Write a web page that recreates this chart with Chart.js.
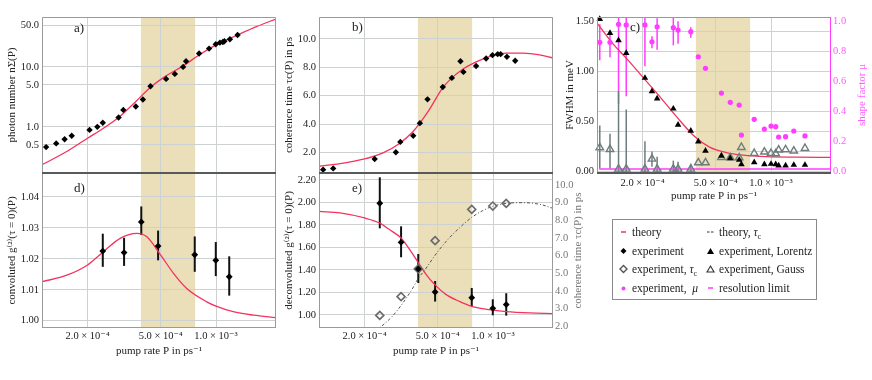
<!DOCTYPE html>
<html>
<head>
<meta charset="utf-8">
<script src="https://cdn.jsdelivr.net/npm/chart.js@4.4.1/dist/chart.umd.min.js"></script>
<style>
  html, body { margin: 0; padding: 0; background: #fff; }
  #fig { position: relative; width: 872px; height: 380px; font-family: 'Liberation Serif', 'DejaVu Serif', serif; color: #222; }
  #fig canvas { position: absolute; left: 0; top: 0; }
  .plabel { position: absolute; font-size: 13px; line-height: 13px; }
  #legend { position: absolute; left: 612px; top: 219px; width: 203px; height: 79px; border: 1px solid #8a8a8a; }
  .li { position: absolute; height: 14px; line-height: 14px; font-size: 11.5px; white-space: nowrap; }
  .li svg { position: absolute; left: 0; top: 2px; }
  .li span { position: absolute; left: 14px; top: 0; }
</style>
</head>
<body>
<div id="fig">
  <canvas id="chartD" width="872" height="380"></canvas>
  <canvas id="chartE" width="872" height="380"></canvas>
  <canvas id="chartA" width="872" height="380"></canvas>
  <canvas id="chartB" width="872" height="380"></canvas>
  <canvas id="chartC" width="872" height="380"></canvas>
  <div class="plabel" style="left:74px;top:21px">a)</div>
  <div class="plabel" style="left:352px;top:20px">b)</div>
  <div class="plabel" style="left:630px;top:20px">c)</div>
  <div class="plabel" style="left:74px;top:181px">d)</div>
  <div class="plabel" style="left:352px;top:181px">e)</div>
  <div id="legend"></div>
</div>
<script>
// gemeinsame x-Achse (Pumprate)
const X_MIN = 1.13e-4;
const X_MAX = 2.12e-3;
const X_TICKS = [2e-4, 5e-4, 1e-3];
const X_TICK_LABELS = ['2.0 × 10⁻⁴', '5.0 × 10⁻⁴', '1.0 × 10⁻³'];
const BAND = [3.9e-4, 7.7e-4];

// a) Photonenzahl
const PHOTON_P = [1.19e-4, 1.35e-4, 1.50e-4, 1.64e-4, 2.05e-4, 2.26e-4, 2.42e-4, 2.95e-4, 3.13e-4, 3.66e-4, 4.0e-4, 4.4e-4,
                  5.35e-4, 5.97e-4, 6.62e-4, 6.87e-4, 8.09e-4, 9.17e-4, 9.97e-4, 1.05e-3, 1.09e-3, 1.11e-3, 1.19e-3, 1.31e-3];
const PHOTON_N = [0.46, 0.53, 0.62, 0.71, 0.89, 1.0, 1.17, 1.43, 1.92, 2.18, 2.86, 4.76,
                  6.31, 7.64, 10.0, 12.4, 16.7, 20.2, 23.9, 25.4, 26.1, 26.8, 28.9, 34.1];
const PHOTON_THEORY_P = [1.13e-4, 1.54e-4, 2.0e-4, 2.44e-4, 2.95e-4, 3.66e-4, 4.4e-4, 5.35e-4, 6.62e-4, 8.09e-4, 1.0e-3, 1.31e-3, 1.66e-3, 2.12e-3];
const PHOTON_THEORY_N = [0.233, 0.388, 0.647, 0.95, 1.43, 2.64, 4.58, 7.08, 10.4, 15.8, 23.3, 34.1, 47, 63];
const A_TICKS = [0.5, 1, 5, 10, 50];
const A_TICK_LABELS = ['0.5', '1.0', '5.0', '10.0', '50.0'];

// b) Kohaerenzzeit
const TAU_P = [1.19e-4, 1.35e-4, 2.27e-4, 2.96e-4, 3.13e-4, 3.68e-4, 4.0e-4, 4.4e-4, 5.33e-4, 5.97e-4, 6.65e-4, 6.9e-4,
               8.09e-4, 9.17e-4, 9.93e-4, 1.06e-3, 1.10e-3, 1.19e-3, 1.32e-3];
const TAU_PS = [0.80, 0.89, 1.55, 2.02, 2.75, 3.18, 4.07, 5.74, 6.61, 7.25, 8.42, 7.67,
                8.09, 8.61, 8.85, 8.92, 8.92, 8.73, 8.45];
const TAU_THEORY_P = [1.13e-4, 1.47e-4, 2.0e-4, 2.52e-4, 3.1e-4, 3.66e-4, 4.0e-4, 4.51e-4, 5.33e-4, 5.97e-4, 6.87e-4, 8.09e-4,
                      9.55e-4, 1.18e-3, 1.46e-3, 1.79e-3, 2.12e-3];
const TAU_THEORY_PS = [1.04, 1.22, 1.55, 1.98, 2.64, 3.46, 4.07, 5.04, 6.56, 7.25, 7.88, 8.38, 8.75, 8.99, 8.99, 8.87, 8.66];
const B_TICKS = [2, 4, 6, 8, 10];

// c) Linienbreite und Formfaktor
const FWHM_P = [1.17e-4, 1.33e-4, 1.48e-4, 1.63e-4, 2.06e-4, 2.25e-4, 2.40e-4, 2.94e-4, 3.12e-4, 3.66e-4, 4.02e-4, 4.4e-4,
                5.37e-4, 6.0e-4, 6.71e-4, 6.9e-4, 8.1e-4, 9.2e-4, 1.0e-3, 1.06e-3, 1.1e-3, 1.2e-3, 1.33e-3, 1.53e-3];
const LORENTZ = [1.52, 1.38, 1.307, 1.18, 0.933, 0.80, 0.727, 0.627, 0.467, 0.407, 0.30, 0.207,
                 0.157, 0.133, 0.117, 0.073, 0.093, 0.073, 0.077, 0.073, 0.06, 0.06, 0.067, 0.067];
const GAUSS = [0.24, 0.223, 0.027, 0.027, 0.027, 0.127, 0.027, 0.027, 0.027, 0.027, 0.09, 0.09,
               0.143, 0.14, 0.14, 0.243, 0.183, 0.197, 0.183, 0.18, 0.217, 0.22, 0.207, 0.233];
const GAUSS_LO = [0.033, 0.033, 0, 0, 0, 0.05, 0, 0, 0, 0, 0.09, 0.09,
                  0.143, 0.14, 0.14, 0.243, 0.183, 0.197, 0.183, 0.18, 0.217, 0.22, 0.207, 0.233];
const GAUSS_HI = [0.46, 0.377, 0.8, 0.62, 0.303, 0.2, 0.15, 0.11, 0.1, 0.08, 0.09, 0.09,
                  0.143, 0.14, 0.14, 0.243, 0.183, 0.197, 0.183, 0.18, 0.217, 0.22, 0.207, 0.233];
const MU = [0.86, 0.86, 0.98, 0.976, 0.976, 0.864, 0.964, 0.958, 0.942, 0.931, 0.764, 0.687,
            0.522, 0.46, 0.442, 0.242, 0.347, 0.282, 0.302, 0.298, 0.229, 0.231, 0.269, 0.236];
const MU_LO = [0.74, 0.76, 0.45, 0.5, 0.70, 0.82, 0.81, 0.84, 0.85, 0.89, 0.764, 0.687,
               0.522, 0.46, 0.442, 0.242, 0.347, 0.282, 0.302, 0.298, 0.229, 0.231, 0.269, 0.236];
const MU_HI = [0.98, 0.93, 1.03, 1.03, 1.03, 0.90, 1.02, 1.03, 1.0, 0.96, 0.764, 0.687,
               0.522, 0.46, 0.442, 0.242, 0.347, 0.282, 0.302, 0.298, 0.229, 0.231, 0.269, 0.236];
const FWHM_THEORY_P = [1.12e-4, 1.37e-4, 1.63e-4, 2.06e-4, 2.52e-4, 3.11e-4, 3.84e-4, 4.63e-4, 5.72e-4, 7.05e-4, 9.46e-4, 1.38e-3, 2.12e-3];
const FWHM_THEORY = [1.49, 1.28, 1.13, 0.917, 0.733, 0.533, 0.35, 0.245, 0.19, 0.165, 0.15, 0.145, 0.143];
const RES_P = [1.16e-4, 2.12e-3];
const RES_FWHM = [0.027, 0.027];
const C_TICKS = [0, 0.2, 0.4, 0.5, 0.6, 0.8, 1.0, 1.2, 1.4, 1.5];
const C_TICK_LABELS = ['0.00', '', '', '0.50', '', '', '1.00', '', '', '1.50'];
const MU_TICKS = [0, 0.2, 0.4, 0.6, 0.8, 1.0];

// d) und e) g2-Korrelation
const G2_P = [2.42e-4, 3.16e-4, 3.92e-4, 4.84e-4, 7.66e-4, 9.97e-4, 1.18e-3];
const G2_CONV = [1.0225, 1.0220, 1.0319, 1.0241, 1.0213, 1.0195, 1.0142];
const G2_CONV_LO = [1.0174, 1.0177, 1.0277, 1.0195, 1.0158, 1.0144, 1.0081];
const G2_CONV_HI = [1.0281, 1.0268, 1.0369, 1.0291, 1.0272, 1.0254, 1.0208];
const G2_CONV_THEORY_P = [1.134e-4, 1.544e-4, 2.0e-4, 2.44e-4, 3.01e-4, 3.71e-4, 4.2e-4, 5.0e-4, 5.87e-4, 6.93e-4, 8.9e-4, 1.0e-3, 1.24e-3, 1.6e-3, 2.12e-3];
const G2_CONV_THEORY = [1.0126, 1.0147, 1.018, 1.0223, 1.0266, 1.0282, 1.0271, 1.0212, 1.0153, 1.0104, 1.0061, 1.0047, 1.0029, 1.0018, 1.001];
const D_TICKS = [1.00, 1.01, 1.02, 1.03, 1.04];

const G2_DECONV = [1.993, 1.646, 1.409, 1.204, 1.154, 1.059, 1.092];
const G2_DECONV_LO = [1.770, 1.513, 1.284, 1.119, 1.077, 0.997, 0.994];
const G2_DECONV_HI = [2.224, 1.788, 1.542, 1.302, 1.240, 1.139, 1.193];
const G2_DECONV_THEORY_P = [1.134e-4, 1.47e-4, 2.0e-4, 2.41e-4, 2.73e-4, 3.16e-4, 3.52e-4, 3.88e-4, 4.33e-4, 4.82e-4, 5.56e-4,
                            6.56e-4, 7.66e-4, 9.55e-4, 1.18e-3, 1.58e-3, 2.12e-3];
const G2_DECONV_THEORY = [1.921, 1.907, 1.862, 1.818, 1.759, 1.684, 1.581, 1.477, 1.359, 1.27, 1.181,
                          1.121, 1.077, 1.047, 1.03, 1.018, 1.012];
const TAU_E = [2.62, 3.68, 5.25, 6.85, 8.62, 8.81, 8.96];
const TAU_E_THEORY_P = [2.3e-4, 2.47e-4, 2.85e-4, 3.23e-4, 3.66e-4, 3.88e-4, 4.33e-4, 4.82e-4, 5.56e-4, 6.56e-4, 7.66e-4,
                        8.79e-4, 9.93e-4, 1.18e-3, 1.45e-3, 1.79e-3, 2.12e-3];
const TAU_E_THEORY = [1.75, 2.0, 2.6, 3.32, 4.17, 4.64, 5.30, 6.0, 6.81, 7.57, 8.17, 8.55, 8.79, 8.96, 9.0, 8.91, 8.68];
const E_TICKS = [1.0, 1.2, 1.4, 1.6, 1.8, 2.0, 2.2];
const E_TAU_TICKS = [2, 3, 4, 5, 6, 7, 8, 9, 10];

// Farben
const RED = '#f2335d';
const MAGENTA = '#ff3cff';
const MU_TEXT = '#ff5cff';
const BAND_COLOR = '#ebdfba';
const GRID = '#cdd1d1';
const FRAME = '#9a9a9a';
const TEXT = '#222';
const GAUSS_GRAY = '#6d7c7c';
const FONT_FAMILY = "'Liberation Serif', 'DejaVu Serif', serif";
const TICK_FONT = { size: 10.5 };
const TITLE_FONT = { size: 11 };

Chart.defaults.font.family = FONT_FAMILY;
Chart.defaults.font.size = 11;
Chart.defaults.color = TEXT;

function pts(xs, ys) {
    return xs.map(function(x, i) { return { x: x, y: ys[i] }; });
}

// schattierter Bereich
const bandPlugin = {
    id: 'band',
    beforeDraw: function(chart) {
        const a = chart.chartArea, xs = chart.scales.x, ctx = chart.ctx;
        const x0 = xs.getPixelForValue(BAND[0]), x1 = xs.getPixelForValue(BAND[1]);
        ctx.save();
        ctx.fillStyle = BAND_COLOR;
        ctx.fillRect(x0, a.top, x1 - x0, a.bottom - a.top);
        ctx.restore();
    }
};

// Fehlerbalken aus errLo / errHi
const errorBarPlugin = {
    id: 'errorBars',
    beforeDatasetsDraw: function(chart) {
        const a = chart.chartArea, ctx = chart.ctx, xs = chart.scales.x;
        ctx.save();
        ctx.beginPath();
        ctx.rect(a.left, a.top, a.right - a.left, a.bottom - a.top);
        ctx.clip();
        chart.data.datasets.forEach(function(ds, i) {
            if (!ds.errLo) return;
            const ys = chart.scales[chart.getDatasetMeta(i).yAxisID];
            ctx.strokeStyle = ds.errColor;
            ctx.lineWidth = ds.errWidth;
            ds.data.forEach(function(p, j) {
                if (ds.errLo[j] === ds.errHi[j]) return;
                const px = xs.getPixelForValue(p.x);
                ctx.beginPath();
                ctx.moveTo(px, ys.getPixelForValue(ds.errLo[j]));
                ctx.lineTo(px, ys.getPixelForValue(ds.errHi[j]));
                ctx.stroke();
            });
        });
        ctx.restore();
    }
};

// Rahmen um den Plotbereich, rechter Achsentitel von unten nach oben
const framePlugin = {
    id: 'frame',
    afterDraw: function(chart, args, opts) {
        const a = chart.chartArea, ctx = chart.ctx;
        ctx.save();
        ctx.lineWidth = 1;
        ctx.strokeStyle = FRAME;
        ctx.beginPath();
        ctx.moveTo(a.left + 0.5, a.bottom);
        ctx.lineTo(a.left + 0.5, a.top + 0.5);
        ctx.lineTo(a.right - 0.5, a.top + 0.5);
        if (!opts.rightColor) ctx.lineTo(a.right - 0.5, a.bottom);
        if (!opts.thickBottom) {
            ctx.moveTo(a.left, a.bottom - 0.5);
            ctx.lineTo(a.right, a.bottom - 0.5);
        }
        ctx.stroke();
        if (opts.rightColor) {
            ctx.strokeStyle = opts.rightColor;
            ctx.beginPath();
            ctx.moveTo(a.right - 0.5, a.top);
            ctx.lineTo(a.right - 0.5, a.bottom);
            ctx.stroke();
        }
        if (opts.thickBottom) {
            ctx.strokeStyle = '#565a5a';
            ctx.lineWidth = 2;
            ctx.beginPath();
            ctx.moveTo(a.left, a.bottom);
            ctx.lineTo(a.right, a.bottom);
            ctx.stroke();
        }
        if (opts.rightTitle) {
            ctx.translate(a.right + opts.rightTitleOffset, (a.top + a.bottom) / 2);
            ctx.rotate(-Math.PI / 2);
            ctx.fillStyle = opts.rightTitleColor;
            ctx.font = TITLE_FONT.size + 'px ' + FONT_FAMILY;
            ctx.textAlign = 'center';
            ctx.textBaseline = 'middle';
            ctx.fillText(opts.rightTitle, 0, 0);
        }
        ctx.restore();
    }
};

Chart.register(bandPlugin, errorBarPlugin, framePlugin);

function xAxis(withLabels, tickPad) {
    return {
        type: 'logarithmic',
        min: X_MIN,
        max: X_MAX,
        afterBuildTicks: function(s) { s.ticks = X_TICKS.map(function(v) { return { value: v }; }); },
        afterFit: function(s) { s.height = withLabels ? 30 : 0; },
        grid: { color: GRID, drawTicks: false },
        border: { display: false },
        ticks: {
            display: withLabels,
            padding: tickPad,
            autoSkip: false,
            maxRotation: 0,
            font: TICK_FONT,
            callback: function(v, i) { return X_TICK_LABELS[i]; }
        },
        title: { display: withLabels, text: 'pump rate P in ps⁻¹', font: TITLE_FONT, padding: 0 }
    };
}

function yAxis(o) {
    return {
        type: o.type || 'linear',
        position: o.position || 'left',
        min: o.min,
        max: o.max,
        afterBuildTicks: function(s) { s.ticks = o.ticks.map(function(v) { return { value: v }; }); },
        afterFit: function(s) { s.width = o.width; },
        grid: o.noGrid ? { display: false, drawTicks: false } : { color: o.gridColor || GRID, drawTicks: false },
        border: { display: false },
        ticks: {
            padding: o.tickPad === undefined ? 3 : o.tickPad,
            color: o.color || TEXT,
            font: TICK_FONT,
            callback: function(v, i) { return o.labels[i]; }
        },
        title: {
            display: !!o.title,
            text: o.title || '',
            color: o.color || TEXT,
            font: TITLE_FONT,
            padding: { top: o.titlePad || 0, bottom: 0 }
        }
    };
}

function baseOptions(pad, frame) {
    return {
        responsive: false,
        animation: false,
        events: [],
        layout: { padding: pad },
        plugins: { legend: { display: false }, tooltip: { enabled: false }, frame: frame },
        scales: {}
    };
}

function theoryLine(xs, ys, extra) {
    return Object.assign({
        data: pts(xs, ys),
        showLine: true,
        pointRadius: 0,
        borderColor: RED,
        borderWidth: 1.3,
        cubicInterpolationMode: 'monotone',
        fill: false
    }, extra || {});
}

// a)
const optA = baseOptions({ left: 0, top: 17, right: 596, bottom: 207 }, { thickBottom: true });
optA.scales.x = xAxis(false, 0);
optA.scales.y = yAxis({ type: 'logarithmic', min: 0.17, max: 68, ticks: A_TICKS, labels: A_TICK_LABELS,
                        width: 42, title: 'photon number nΣ(P)', titlePad: 6 });
new Chart(document.getElementById('chartA'), {
    type: 'scatter',
    data: { datasets: [
        { data: pts(PHOTON_P, PHOTON_N), pointStyle: 'rectRot', pointRadius: 3.2, backgroundColor: '#000', borderWidth: 0 },
        theoryLine(PHOTON_THEORY_P, PHOTON_THEORY_N)
    ] },
    options: optA
});

// b)
const optB = baseOptions({ left: 277, top: 17, right: 319, bottom: 207 }, { thickBottom: true });
optB.scales.x = xAxis(false, 0);
optB.scales.y = yAxis({ min: 0.565, max: 11.53, ticks: B_TICKS, labels: B_TICKS.map(function(v) { return v.toFixed(1); }),
                        width: 42, title: 'coherence time τc(P) in ps', titlePad: 6 });
new Chart(document.getElementById('chartB'), {
    type: 'scatter',
    data: { datasets: [
        { data: pts(TAU_P, TAU_PS), pointStyle: 'rectRot', pointRadius: 3.2, backgroundColor: '#000', borderWidth: 0 },
        theoryLine(TAU_THEORY_P, TAU_THEORY_PS)
    ] },
    options: optB
});

// c)
const optC = baseOptions({ left: 562, top: 17, right: 0, bottom: 177 },
                         { thickBottom: true, rightColor: MAGENTA, rightTitle: 'shape factor μ', rightTitleOffset: 31, rightTitleColor: MU_TEXT });
optC.scales.x = xAxis(true, 4);
optC.scales.y = yAxis({ min: -0.013, max: 1.54, ticks: C_TICKS, labels: C_TICK_LABELS, width: 35,
                        title: 'FWHM in meV', titlePad: 1.5,
                        gridColor: function(c) { return (c.tick && (c.tick.value === 0.5 || c.tick.value === 1.5)) ? 'rgba(0,0,0,0)' : GRID; } });
optC.scales.y2 = yAxis({ position: 'right', min: -0.011, max: 1.029, ticks: MU_TICKS,
                         labels: MU_TICKS.map(function(v) { return v.toFixed(1); }), width: 41, tickPad: 2,
                         color: MU_TEXT, noGrid: true });
new Chart(document.getElementById('chartC'), {
    type: 'scatter',
    data: { datasets: [
        { data: pts(FWHM_P, MU), yAxisID: 'y2', pointStyle: 'circle', pointRadius: 2.6, backgroundColor: MAGENTA, borderWidth: 0,
          errLo: MU_LO, errHi: MU_HI, errColor: MAGENTA, errWidth: 1.5, clip: 6 },
        { data: pts(FWHM_P, LORENTZ), pointStyle: 'triangle', pointRadius: 3.8, backgroundColor: '#000', borderWidth: 0, clip: 6 },
        { data: pts(FWHM_P, GAUSS), pointStyle: 'triangle', pointRadius: 4.3, backgroundColor: 'rgba(255,255,255,0)',
          borderColor: GAUSS_GRAY, borderWidth: 1.4,
          errLo: GAUSS_LO, errHi: GAUSS_HI, errColor: GAUSS_GRAY, errWidth: 1.5, clip: 6 },
        theoryLine(FWHM_THEORY_P, FWHM_THEORY),
        { data: pts(RES_P, RES_FWHM), showLine: true, pointRadius: 0, borderColor: MAGENTA, borderWidth: 1.3 }
    ] },
    options: optC
});

// d)
const optD = baseOptions({ left: 0, top: 173, right: 596, bottom: 22 }, {});
optD.scales.x = xAxis(true, 2);
optD.scales.y = yAxis({ min: 0.99765, max: 1.0477, ticks: D_TICKS, labels: D_TICKS.map(function(v) { return v.toFixed(2); }),
                        width: 42, title: 'convoluted g⁽²⁾(τ = 0)(P)', titlePad: 6 });
new Chart(document.getElementById('chartD'), {
    type: 'scatter',
    data: { datasets: [
        { data: pts(G2_P, G2_CONV), pointStyle: 'rectRot', pointRadius: 3.4, backgroundColor: '#000', borderWidth: 0,
          errLo: G2_CONV_LO, errHi: G2_CONV_HI, errColor: '#111', errWidth: 2 },
        theoryLine(G2_CONV_THEORY_P, G2_CONV_THEORY)
    ] },
    options: optD
});

// e)
const optE = baseOptions({ left: 277, top: 173, right: 286, bottom: 22 },
                         { rightTitle: 'coherence time τc(P) in ps', rightTitleOffset: 25, rightTitleColor: '#777' });
optE.scales.x = xAxis(true, 2);
optE.scales.y = yAxis({ min: 0.884, max: 2.262, ticks: E_TICKS, labels: E_TICKS.map(function(v) { return v.toFixed(2); }),
                        width: 42, title: 'deconvoluted g⁽²⁾(τ = 0)(P)', titlePad: 6 });
optE.scales.y2 = yAxis({ position: 'right', min: 1.906, max: 10.68, ticks: E_TAU_TICKS,
                         labels: E_TAU_TICKS.map(function(v) { return v.toFixed(1); }), width: 33, tickPad: 2,
                         color: '#777', noGrid: true });
new Chart(document.getElementById('chartE'), {
    type: 'scatter',
    data: { datasets: [
        { data: pts(G2_P, G2_DECONV), pointStyle: 'rectRot', pointRadius: 3.4, backgroundColor: '#000', borderWidth: 0,
          errLo: G2_DECONV_LO, errHi: G2_DECONV_HI, errColor: '#111', errWidth: 2 },
        { data: pts(G2_P, TAU_E), yAxisID: 'y2', pointStyle: 'rectRot', pointRadius: 4, backgroundColor: 'rgba(255,255,255,0)',
          borderColor: '#6a6a6a', borderWidth: 1.6 },
        theoryLine(G2_DECONV_THEORY_P, G2_DECONV_THEORY),
        theoryLine(TAU_E_THEORY_P, TAU_E_THEORY, { yAxisID: 'y2', borderColor: '#555', borderWidth: 1, borderDash: [3, 2, 1, 2] })
    ] },
    options: optE
});

// Legende
const LEGEND_LABELS = ['theory', 'experiment', 'experiment, <i>τ</i><sub style="font-size:8px">c</sub>', 'experiment, &nbsp;<i>μ</i>',
                       'theory, <i>τ</i><sub style="font-size:8px">c</sub>', 'experiment, Lorentz', 'experiment, Gauss', 'resolution limit'];
const LEGEND_SYMBOLS = [
    '<line x1="3" y1="5" x2="8" y2="5" stroke="' + RED + '" stroke-width="1.5"/>',
    '<polygon points="5.5,2 8.5,5 5.5,8 2.5,5" fill="#000"/>',
    '<polygon points="5.5,1.5 9,5 5.5,8.5 2,5" fill="none" stroke="#555" stroke-width="1.4"/>',
    '<circle cx="5.5" cy="5.5" r="2" fill="' + MAGENTA + '"/>',
    '<line x1="2" y1="5" x2="9" y2="5" stroke="#333" stroke-width="1" stroke-dasharray="2.5,1.5"/>',
    '<polygon points="5.5,2 9,8 2,8" fill="#000"/>',
    '<polygon points="5.5,2 9,8 2,8" fill="none" stroke="#333" stroke-width="1.1"/>',
    '<line x1="3" y1="5" x2="8" y2="5" stroke="' + MAGENTA + '" stroke-width="1.5"/>'
];
const legend = document.getElementById('legend');
LEGEND_LABELS.forEach(function(label, i) {
    const col = Math.floor(i / 4), row = i % 4;
    const div = document.createElement('div');
    div.className = 'li';
    div.style.left = (col === 0 ? 5 : 92) + 'px';
    div.style.top = (5 + row * 18.6) + 'px';
    div.innerHTML = '<svg width="11" height="10">' + LEGEND_SYMBOLS[i] + '</svg><span>' + label + '</span>';
    legend.appendChild(div);
});
</script>
</body>
</html>
